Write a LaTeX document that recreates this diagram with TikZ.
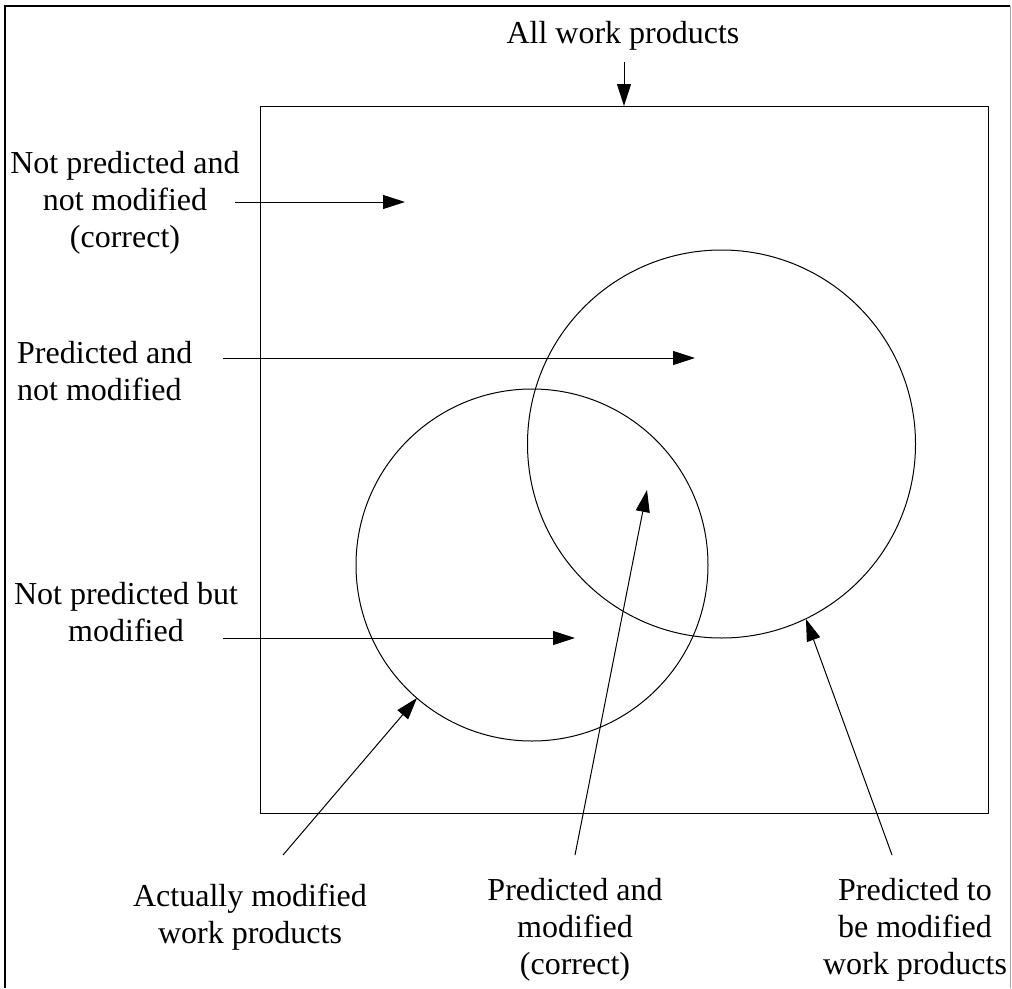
\documentclass[tikz,border=0pt]{standalone}
\usepackage{fontspec}
\setmainfont{Liberation Serif}
\usetikzlibrary{arrows.meta}
\begin{document}
\begin{tikzpicture}[x=1pt,y=-1pt,
  lbl/.style={font=\fontsize{32}{37}\selectfont, align=center, inner sep=0pt},
  pointer/.style={line width=1pt, -{Triangle[length=22pt,width=14pt]}},
  outline/.style={line width=1pt}]
\useasboundingbox (0,0) rectangle (1012,988);

% page frame
\draw[line width=2.2pt] (5,988) -- (5,6) -- (1010,6);
\draw[line width=0.8pt, black!35] (1010,6) -- (1010,988);

% universe of work products and the two sets
\node[outline, draw, minimum width=728pt, minimum height=707pt, inner sep=0pt]
  (all) at (624,459.5) {};
\node[outline, draw, circle, minimum size=352pt, inner sep=0pt] (actual) at (532,565) {};
\node[outline, draw, circle, minimum size=388pt, inner sep=0pt] (pred) at (721.5,444) {};

% labels (anchored at the baseline of their last line)
\node[lbl, anchor=base] (lAll) at (623,43) {All work products};
\node[lbl, anchor=base] (lNN) at (125,247) {Not predicted and\\not modified\\(correct)};
\node[lbl, align=left, anchor=base west] (lPN) at (17,400) {Predicted and\\not modified};
\node[lbl, anchor=base] (lNM) at (126,641) {Not predicted but\\modified};
\node[lbl, anchor=base] (lAct) at (250,943) {Actually modified\\work products};
\node[lbl, anchor=base] (lPM) at (575,974) {Predicted and\\modified\\(correct)};
\node[lbl, anchor=base] (lPred) at (915,974) {Predicted to\\be modified\\work products};

% arrow ends
\coordinate (sAll) at (624,62);   \coordinate (tAll) at (624,106);
\coordinate (sNN) at (235,202);   \coordinate (tNN) at (405,202);
\coordinate (sPN) at (223,358);   \coordinate (tPN) at (695,358);
\coordinate (sNM) at (223,638);   \coordinate (tNM) at (575,638);
\coordinate (sAct) at (283,855);  \coordinate (tAct) at (417,698);
\coordinate (sPM) at (575,855);   \coordinate (tPM) at (647,490);
\coordinate (sPred) at (892,855); \coordinate (tPred) at (806,619);

\draw[pointer] (sAll) -- (tAll);
\draw[pointer] (sNN) -- (tNN);
\draw[pointer] (sPN) -- (tPN);
\draw[pointer] (sNM) -- (tNM);
\draw[pointer] (sAct) -- (tAct);
\draw[pointer] (sPM) -- (tPM);
\draw[pointer] (sPred) -- (tPred);
\end{tikzpicture}
\end{document}
